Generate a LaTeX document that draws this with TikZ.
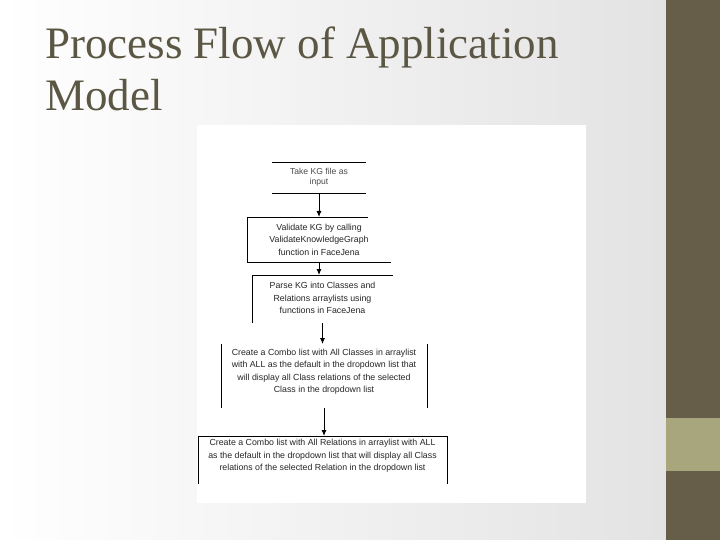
\documentclass[tikz,border=0pt]{standalone}
\usepackage{fontspec}
\setmainfont{Liberation Serif}
\newfontfamily\flowfont{Liberation Sans}
\usepackage{tikz}
\usepackage{xcolor}
\usetikzlibrary{positioning, arrows.meta}

\definecolor{olivedark}{HTML}{665E48}
\definecolor{olivelight}{HTML}{A8A67C}
\definecolor{titlegray}{HTML}{5C5744}

\begin{document}
\begin{tikzpicture}[x=1pt, y=-1pt,
    flowbox/.style={inner sep=0pt, outer sep=0pt},
    flowtext/.style={font=\flowfont\fontsize{8.8}{12.5}\selectfont, align=center, text=black!85, inner sep=0pt},
    frameline/.style={black, line width=0.9pt},
    flowarrow/.style={black, line width=0.9pt, -{Latex[length=6pt, width=5pt]}}]
    \useasboundingbox (0,0) rectangle (720,540);
    % slide background
    \shade[left color=white, right color=black!11] (0,0) rectangle (666,540);
    \fill[olivedark] (666,0) rectangle (720,540);
    \fill[olivelight] (666,418) rectangle (720,471);
    \fill[white] (197,125) rectangle (586,503);

    \node[font=\fontsize{45}{52}\selectfont, text=titlegray, align=left, anchor=north west, inner sep=0pt] (title) at (45,27) {Process Flow of Application\\Model};

    % flow chart
    \node[flowbox, minimum width=94pt, minimum height=31pt, label={[flowtext, font=\flowfont\fontsize{8.6}{10}\selectfont, text=black!70]center:Take KG file as\\input}] (take) at (319,177.5) {};
    \node[flowbox, minimum width=143pt, minimum height=45pt, label={[flowtext]center:Validate KG by calling\\ValidateKnowledgeGraph\\function in FaceJena}] (validate) at (319,239.5) {};
    \node[flowbox, minimum width=141pt, minimum height=48pt, label={[flowtext, yshift=1pt]center:Parse KG into Classes and\\Relations arraylists using\\functions in FaceJena}] (parse) at (322.5,299) {};
    \node[flowbox, minimum width=206pt, minimum height=64pt, label={[flowtext, yshift=4.5pt]center:Create a Combo list with All Classes in arraylist\\with ALL as the default in the dropdown list that\\will display all Class relations of the selected\\Class in the dropdown list}] (classes) at (324,376) {};
    \node[flowbox, minimum width=249pt, minimum height=48pt, label={[flowtext, yshift=4pt]center:Create a Combo list with All Relations in arraylist with ALL\\as the default in the dropdown list that will display all Class\\relations of the selected Relation in the dropdown list}] (relations) at (322.5,460) {};

    \draw[frameline] (take.north west) -- (take.north east);
    \draw[frameline] (take.south west) -- (take.south east);
    \draw[frameline] (validate.north west) -- +(120,0);
    \draw[frameline] (validate.north west) -- (validate.south west) -- (validate.south east);
    \draw[frameline] (parse.south west) -- (parse.north west) -- (parse.north east);
    \draw[frameline] (classes.north west) -- (classes.south west);
    \draw[frameline] (classes.north east) -- (classes.south east);
    \draw[frameline] (relations.south west) -- (relations.north west) -- (relations.north east) -- (relations.south east);

    \draw[flowarrow] (take.south) -- (validate.north);
    \draw[flowarrow] (validate.south) -- (parse.north -| validate.south);
    \draw[flowarrow] (parse.south) -- (classes.north -| parse.south);
    \draw[flowarrow] (classes.south) -- (relations.north -| classes.south);
\end{tikzpicture}
\end{document}
